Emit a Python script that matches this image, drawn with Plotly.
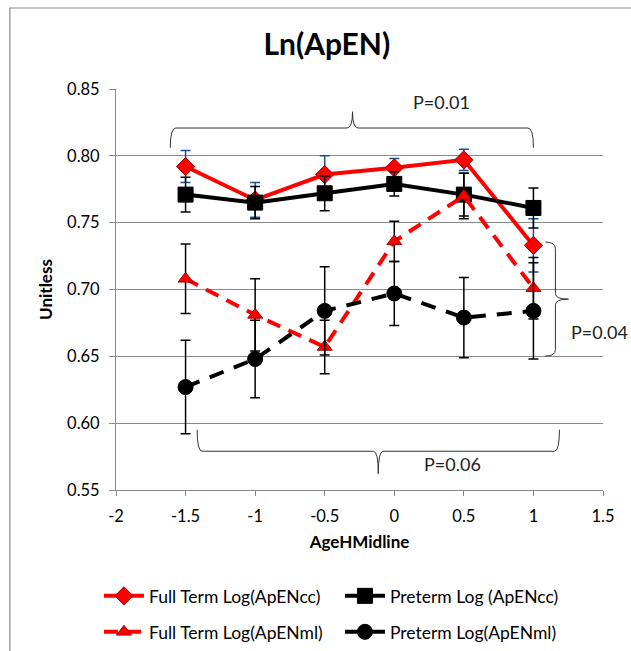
import plotly.graph_objects as go

x_vals = [-1.5, -1, -0.5, 0, 0.5, 1]

ft_cc = [0.792, 0.767, 0.786, 0.791, 0.797, 0.733]
ft_cc_err = [0.012, 0.013, 0.014, 0.007, 0.008, 0.020]

pt_cc = [0.771, 0.765, 0.772, 0.779, 0.771, 0.761]
pt_cc_err = [0.013, 0.012, 0.013, 0.009, 0.016, 0.015]

ft_ml = [0.708, 0.681, 0.657, 0.736, 0.770, 0.701]
ft_ml_err = [0.026, 0.027, 0.020, 0.015, 0.017, 0.023]

pt_ml = [0.627, 0.648, 0.684, 0.697, 0.679, 0.684]
pt_ml_err = [0.035, 0.029, 0.033, 0.024, 0.030, 0.036]

names = ["Full Term Log(ApENcc)", "Preterm Log (ApENcc)",
         "Full Term Log(ApENml)", "Preterm Log(ApENml)"]

x_ticks = [-2, -1.5, -1, -0.5, 0, 0.5, 1, 1.5]
y_ticks = [0.55, 0.60, 0.65, 0.70, 0.75, 0.80, 0.85]

FONT = "Lato, 'Open Sans', sans-serif"

fig = go.Figure()

def add(y, err, name, color, errcolor, dash, symbol, size, mline, legend):
    fig.add_trace(go.Scatter(
        x=x_vals, y=y, name=name, mode="lines+markers", legend=legend,
        line=dict(color=color, width=4, dash=dash),
        marker=dict(symbol=symbol, size=size, color=color,
                    line=dict(color=mline, width=1)),
        error_y=dict(type="data", array=err, visible=True,
                     color=errcolor, thickness=1.5, width=5),
    ))

add(ft_cc, ft_cc_err, names[0], "#FF0000", "#1F4E8C", "solid", "diamond", 14, "#A00000", "legend")
add(pt_cc, pt_cc_err, names[1], "#000000", "#000000", "solid", "square", 15, "#000000", "legend")
add(ft_ml, ft_ml_err, names[2], "#FF0000", "#000000", "14px,9px", "triangle-up", 13, "#A00000", "legend2")
add(pt_ml, pt_ml_err, names[3], "#000000", "#000000", "15px,11px", "circle", 15, "#000000", "legend2")

brace = dict(color="#333333", width=1)
shapes = [
    # outer frame
    dict(type="rect", xref="paper", yref="paper", x0=-0.218, x1=1.07, y0=-0.45, y1=1.202,
         line=dict(color="#8A8A8A", width=1.2)),
    # top brace  (P=0.01)
    dict(type="path", xref="x", yref="y", line=brace,
         path="M -1.61,0.806 Q -1.61,0.8208 -1.57,0.8208 L -0.34,0.8208 "
              "Q -0.30,0.8208 -0.30,0.833 Q -0.30,0.8208 -0.26,0.8208 "
              "L 0.96,0.8208 Q 1.0,0.8208 1.0,0.806"),
    # bottom brace (P=0.06)
    dict(type="path", xref="x", yref="y", line=brace,
         path="M -1.417,0.5951 Q -1.417,0.579 -1.38,0.579 L -0.15,0.579 "
              "Q -0.115,0.579 -0.115,0.5622 Q -0.115,0.579 -0.08,0.579 "
              "L 1.15,0.579 Q 1.187,0.579 1.187,0.5951"),
    # right brace (P=0.04)
    dict(type="path", xref="x", yref="y", line=brace,
         path="M 1.086,0.7355 Q 1.158,0.7355 1.158,0.7305 L 1.158,0.697 "
              "Q 1.158,0.6928 1.252,0.6928 Q 1.158,0.6928 1.158,0.6886 "
              "L 1.158,0.655 Q 1.158,0.6502 1.086,0.6502"),
]

annotations = [
    dict(x=0.338, y=0.8403, xref="x", yref="y", text="P=0.01", showarrow=False,
         font=dict(size=18, color="#222222", family=FONT)),
    dict(x=0.417, y=0.5693, xref="x", yref="y", text="P=0.06", showarrow=False,
         font=dict(size=18, color="#222222", family=FONT)),
    dict(x=1.475, y=0.668, xref="x", yref="y", text="P=0.04", showarrow=False,
         font=dict(size=18, color="#222222", family=FONT)),
]

legend_common = dict(orientation="h", xanchor="left", yanchor="middle",
                     entrywidth=186, entrywidthmode="pixels", traceorder="normal",
                     font=dict(size=17.5, family=FONT, color="#000000"),
                     bgcolor="rgba(0,0,0,0)", itemwidth=40)

fig.update_layout(
    width=631, height=651,
    margin=dict(l=116, r=28, t=89, b=161, autoexpand=False),
    paper_bgcolor="white", plot_bgcolor="white",
    font=dict(family=FONT, color="#000000", size=16),
    title=dict(text="<b>Ln(ApEN)</b>", x=0.518, xanchor="center", y=0.932, yanchor="middle",
               font=dict(size=30, family=FONT, color="#000000")),
    showlegend=True,
    legend=dict(x=-0.035, y=-0.2643, **legend_common),
    legend2=dict(x=-0.035, y=-0.354, **legend_common),
    shapes=shapes,
    annotations=annotations,
)

fig.update_xaxes(
    range=[-2, 1.5], tickvals=x_ticks, ticktext=[f"{v:g}" for v in x_ticks],
    showgrid=False, zeroline=False, showline=True, linecolor="#8A8A8A", linewidth=1.2,
    ticks="outside", ticklen=5, tickcolor="#8A8A8A", ticklabelstandoff=6,
    tickfont=dict(size=16.5, family=FONT, color="#000000"),
    title=dict(text="<b>AgeHMidline</b>", font=dict(size=17, family=FONT), standoff=11),
    automargin=False,
)
fig.update_yaxes(
    range=[0.55, 0.85], tickvals=y_ticks, ticktext=[f"{v:.2f}" for v in y_ticks],
    showgrid=True, gridcolor="#8A8A8A", gridwidth=1, zeroline=False,
    showline=True, linecolor="#8A8A8A", linewidth=1,
    ticks="outside", ticklen=6, tickcolor="#8A8A8A", ticklabelstandoff=6,
    tickfont=dict(size=16.5, family=FONT, color="#000000"),
    title=dict(text="<b>Unitless</b>", font=dict(size=17, family=FONT), standoff=10),
    automargin=False,
)

fig.write_html("out.html", config={"displayModeBar": False},
               post_script="document.body.style.margin='0px';document.body.style.overflow='hidden';")
